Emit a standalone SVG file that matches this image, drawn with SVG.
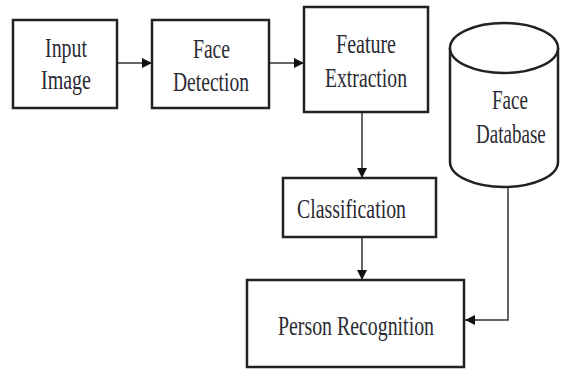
<svg xmlns="http://www.w3.org/2000/svg" width="561" height="370" viewBox="0 0 561 370">
<style>
.box{fill:#fff;stroke:#222;stroke-width:2.5}
.con{fill:none;stroke:#333;stroke-width:1.5}
text{font-family:"Liberation Serif","Times New Roman",serif;font-size:28px;fill:#2a2a33}
</style>
<defs>
<marker id="ah" viewBox="0 0 10 10" refX="10" refY="5" markerWidth="10" markerHeight="10" markerUnits="userSpaceOnUse" orient="auto">
<path d="M0,0 L10,5 L0,10 Z" fill="#111"/>
</marker>
</defs>
<rect width="561" height="370" fill="#fff"/>
<g id="connectors">
<line class="con" x1="117" y1="63" x2="152" y2="63" marker-end="url(#ah)"/>
<line class="con" x1="269" y1="63" x2="304" y2="63" marker-end="url(#ah)"/>
<line class="con" x1="362" y1="112" x2="362" y2="178" marker-end="url(#ah)"/>
<line class="con" x1="362" y1="237" x2="362" y2="280" marker-end="url(#ah)"/>
<polyline class="con" points="508,187 508,320 465,320" marker-end="url(#ah)"/>
</g>
<g id="input-image">
<rect class="box" x="13" y="20" width="104" height="88"/>
<text x="45" y="57" textLength="42" lengthAdjust="spacingAndGlyphs">Input</text>
<text x="41" y="89" textLength="50" lengthAdjust="spacingAndGlyphs">Image</text>
</g>
<g id="face-detection">
<rect class="box" x="152" y="20" width="117" height="88"/>
<text x="193" y="58" textLength="37" lengthAdjust="spacingAndGlyphs">Face</text>
<text x="173" y="91" textLength="76" lengthAdjust="spacingAndGlyphs">Detection</text>
</g>
<g id="feature-extraction">
<rect class="box" x="304" y="7" width="124" height="105"/>
<text x="336" y="53" textLength="60" lengthAdjust="spacingAndGlyphs">Feature</text>
<text x="325" y="87" textLength="82" lengthAdjust="spacingAndGlyphs">Extraction</text>
</g>
<g id="face-database">
<path class="box" d="M450,48 L450,162 A54,25 0 0 0 558,162 L558,48 A54,25 0 0 0 450,48 Z"/>
<path class="box" d="M450,48 A54,25 0 0 0 558,48" fill="none"/>
<text transform="translate(492,109) scale(0.68,1)">Face</text>
<text transform="translate(476,143) scale(0.68,1)">Database</text>
</g>
<g id="classification">
<rect class="box" x="283" y="178" width="153" height="59"/>
<text x="297" y="218" textLength="109" lengthAdjust="spacingAndGlyphs">Classification</text>
</g>
<g id="person-recognition">
<rect class="box" x="247" y="280" width="217" height="87"/>
<text x="278" y="335" textLength="156" lengthAdjust="spacingAndGlyphs">Person Recognition</text>
</g>
</svg>
